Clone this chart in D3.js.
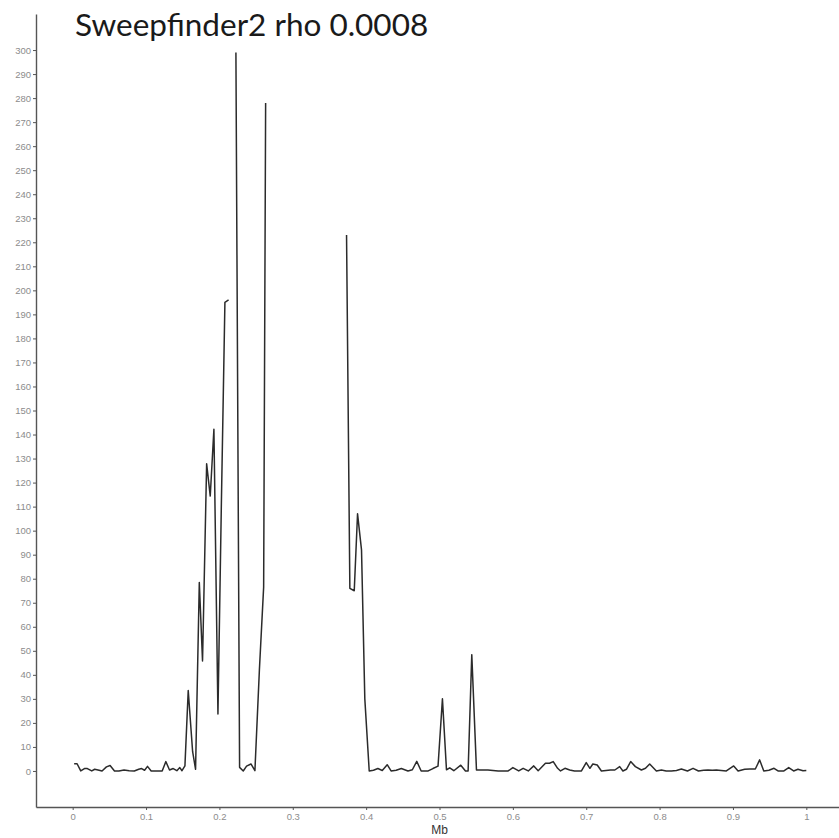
<!DOCTYPE html>
<html>
<head>
<meta charset="utf-8">
<script src="https://cdn.jsdelivr.net/npm/d3@7"></script>
<style>
  body { margin: 0; background: #fff; }
  #chart { width: 839px; height: 838px; overflow: hidden; }
</style>
</head>
<body>
<div id="chart"></div>
<script>
// positions in Mb, null values = gaps in the sweepfinder output
let positions = [
  0.002, 0.006, 0.011, 0.016, 0.020, 0.026, 0.030, 0.036, 0.040, 0.046,
  0.051, 0.057, 0.063, 0.070, 0.077, 0.084, 0.090, 0.094, 0.098, 0.102,
  0.107, 0.114, 0.122, 0.127, 0.132, 0.137, 0.142, 0.146, 0.149, 0.153,
  0.1575, 0.1635, 0.1675, 0.1726, 0.177, 0.1826, 0.1875, 0.1925, 0.198, 0.2025,
  0.2075, 0.2125, 0.2175,
  0.2225, 0.2275, 0.2325, 0.237, 0.243, 0.2484, 0.2545, 0.2603, 0.263, 0.268,
  0.3733, 0.3778, 0.3838, 0.3883, 0.3937, 0.3982, 0.4042, 0.410, 0.416, 0.422,
  0.4287, 0.434, 0.441, 0.448, 0.457, 0.463, 0.469, 0.475, 0.4846, 0.491,
  0.498, 0.504, 0.5095, 0.514, 0.5195, 0.529, 0.5354, 0.539, 0.544, 0.5504,
  0.558, 0.566, 0.573, 0.580, 0.5936, 0.600, 0.608, 0.614, 0.621, 0.6285,
  0.6345, 0.6444, 0.650, 0.655, 0.661, 0.665, 0.671, 0.6775, 0.684, 0.6935,
  0.700, 0.705, 0.709, 0.715, 0.7207, 0.727, 0.733, 0.739, 0.7456, 0.750,
  0.7548, 0.7606, 0.767, 0.7752, 0.7808, 0.7865, 0.7956, 0.8025, 0.809, 0.816,
  0.823, 0.8297, 0.838, 0.8456, 0.853, 0.860, 0.866, 0.872, 0.8774, 0.884,
  0.891, 0.901, 0.907, 0.916, 0.923, 0.9305, 0.9364, 0.942, 0.949, 0.956,
  0.9614, 0.9695, 0.976, 0.9827, 0.9886, 0.9955, 1.0
];
let lr_values = [
  3, 3, 0, 1, 1, 0, 0.7, 0.3, 0, 1.7,
  2.3, 0, 0, 0.4, 0.1, 0, 0.7, 1, 0.3, 1.9,
  0, 0, 0, 3.9, 0.4, 1, 0.1, 1.4, 0.1, 2.1,
  33.5, 8, 0.7, 78.4, 45.8, 127.8, 114.4, 142.2, 23.7, 108,
  195, 196, null,
  299, 1.5, 0, 2, 2.9, 0.1, 42, 76.5, 278, null,
  223, 76, 75, 107, 92, 30, 0, 0.3, 1, 0.2,
  2.6, 0, 0.3, 1, 0, 0.5, 4, 0, 0, 1,
  2, 30, 0.5, 1.3, 0.1, 2.4, 0, 0, 48.4, 0.4,
  0.4, 0.4, 0.2, 0, 0, 1.4, 0, 1.1, 0, 2.1,
  0.1, 3.2, 3.2, 3.9, 1.1, 0, 1.1, 0.4, 0, 0,
  3.5, 1.1, 2.9, 2.5, 0, 0.2, 0.4, 0.4, 1.8, 0,
  0.7, 3.9, 1.8, 0.4, 1.1, 2.9, 0, 0.4, 0, 0,
  0.2, 0.8, 0, 1.1, 0, 0.3, 0.4, 0.3, 0.4, 0.2,
  0, 2.1, 0, 0.7, 0.8, 0.8, 4.6, 0, 0.3, 1.1,
  0, 0, 1.4, 0, 0.7, 0.1, 0.2
];
let x_ticks = [0, 0.1, 0.2, 0.3, 0.4, 0.5, 0.6, 0.7, 0.8, 0.9, 1];
let y_ticks = d3.range(0, 301, 10);

let data = positions.map((p, i) => ({pos: p, lr: lr_values[i]}));

let width = 839, height = 838;
let svg = d3.select("#chart").append("svg")
  .attr("width", width)
  .attr("height", height);

// ggplot style 5% expansion on both axes
let x = d3.scaleLinear().domain([-0.05, 1.05]).range([36, 843]);
let y = d3.scaleLinear().domain([-15, 315]).range([807, 14]);

let axis_col = "#555", label_col = "#8c8c8c";

let y_axis = svg.append("g")
  .attr("transform", "translate(36,0)")
  .call(d3.axisLeft(y).tickValues(y_ticks).tickSize(3).tickPadding(2).tickSizeOuter(0));

let x_axis = svg.append("g")
  .attr("transform", "translate(0,807)")
  .call(d3.axisBottom(x).tickValues(x_ticks).tickSize(3).tickPadding(3).tickSizeOuter(0)
    .tickFormat(d => d3.format("~g")(d)));

[x_axis, y_axis].forEach(function(g){
  g.select(".domain").attr("stroke", axis_col).attr("stroke-width", 1.4);
  g.selectAll(".tick line").attr("stroke", axis_col).attr("stroke-width", 1);
  g.selectAll(".tick text")
    .attr("fill", label_col)
    .style("font", "9.5px 'Liberation Sans', Arial, sans-serif");
});

let line = d3.line()
  .defined(d => d.lr !== null)
  .x(d => x(d.pos))
  .y(d => y(d.lr));

svg.append("path")
  .datum(data)
  .attr("d", line)
  .attr("fill", "none")
  .attr("stroke", "#2b2b2b")
  .attr("stroke-width", 1.5)
  .attr("stroke-linejoin", "round");

svg.append("text")
  .attr("x", x(0.5))
  .attr("y", 834)
  .attr("text-anchor", "middle")
  .attr("fill", "#333")
  .style("font", "12px 'Liberation Sans', Arial, sans-serif")
  .text("Mb");

svg.append("text")
  .attr("x", 75)
  .attr("y", 36)
  .attr("fill", "#1a1a1a")
  .style("font", "31.5px Lato, 'Open Sans', sans-serif")
  .text("Sweepfinder2 rho 0.0008");
</script>
</body>
</html>
